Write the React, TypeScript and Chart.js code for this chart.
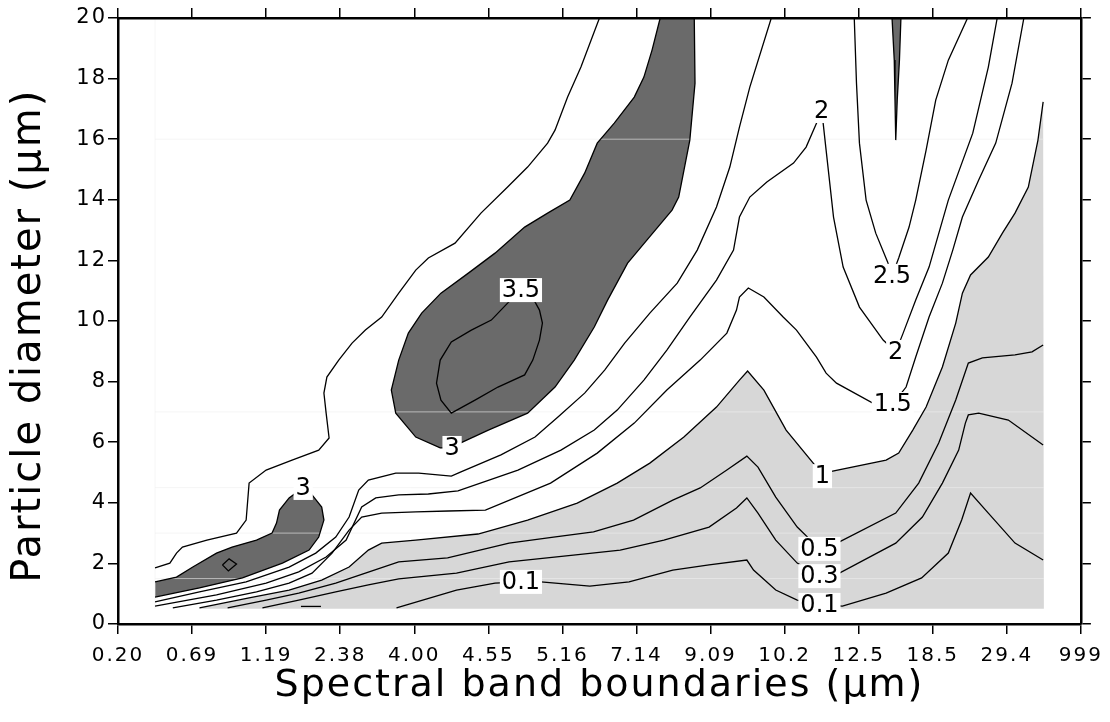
import React, { useEffect, useRef } from "react";
import { Chart, registerables } from "chart.js";

Chart.register(...registerables);

type P = [number, number];

// x axis: band boundary labels at integer positions 0..13; data sit at band centres
const bandLabels = ["0.20", "0.69", "1.19", "2.38", "4.00", "4.55", "5.16", "7.14", "9.09", "10.2", "12.5", "18.5", "29.4", "999"];
const yMin = 0;
const yMax = 20;
const yStep = 2;

// data domain edges (band centre 0.5 .. 12.5, diameter 0.5 .. 20)
const domainLeft = 0.5;
const domainRight = 12.5;
const domainBottom = 0.5;
const domainTop = 20;
// faint cell-row boundaries visible in the picture
const cellRows = [1.5, 3, 4.5, 7, 16];

// contour level 3 : large region (> 3)
const c3Big: P[] = [[7.78, 20], [7.79, 17.85], [7.72, 15.97], [7.57, 14.09], [7.48, 13.66], [7.14, 12.67], [6.88, 11.91], [6.61, 10.69], [6.43, 9.8], [6.16, 8.71], [5.9, 7.82], [5.53, 6.96], [5.0, 6.4], [4.62, 5.97], [4.51, 5.81], [4.35, 5.81], [4.02, 6.17], [3.75, 6.96], [3.69, 7.72], [3.79, 8.71], [3.92, 9.6], [4.1, 10.26], [4.36, 10.92], [4.73, 11.58], [5.09, 12.24], [5.49, 13.1], [5.8, 13.56], [6.1, 13.99], [6.3, 14.88], [6.47, 15.87], [6.7, 16.53], [6.97, 17.39], [7.1, 18.05], [7.21, 18.94], [7.32, 20]];
// contour level 3 : small region lower left
const c3Small: P[] = [[0.5, 1.39], [0.79, 1.55], [1.01, 1.88], [1.33, 2.34], [1.54, 2.54], [1.87, 2.77], [2.08, 3.0], [2.14, 3.33], [2.18, 3.76], [2.31, 4.16], [2.4, 4.32], [2.5, 4.49], [2.62, 4.26], [2.75, 3.86], [2.78, 3.43], [2.71, 2.87], [2.58, 2.44], [2.22, 2.01], [1.68, 1.52], [1.1, 1.19], [0.5, 0.89]];
// contour level 3 : thin sliver at top right
const c3Sliver: P[] = [[10.45, 20], [10.48, 18.61], [10.49, 17.29], [10.5, 15.97], [10.52, 17.29], [10.55, 18.61], [10.57, 20]];
// small closed contour inside small region
const cDiamond: P[] = [[1.41, 1.95], [1.5, 2.15], [1.6, 1.98], [1.49, 1.75], [1.41, 1.95]];
// contour level 3.5
const c35: P[] = [[5.44, 11.02], [5.26, 10.59], [5.04, 10.03], [4.77, 9.7], [4.5, 9.31], [4.35, 8.71], [4.3, 7.95], [4.36, 7.39], [4.5, 6.96], [4.82, 7.39], [5.13, 7.82], [5.49, 8.22], [5.6, 8.71], [5.69, 9.37], [5.73, 9.93], [5.69, 10.36], [5.63, 10.63], [5.44, 11.02]];
// contour level 2.5
const c25Upper: P[] = [[6.5, 20], [6.25, 18.38], [6.07, 17.39], [5.9, 16.3], [5.8, 15.87], [5.53, 15.08], [5.26, 14.42], [4.9, 13.56], [4.55, 12.57], [4.19, 12.08], [4.02, 11.68], [3.79, 10.92], [3.56, 10.13], [3.34, 9.7], [3.16, 9.27], [2.98, 8.71], [2.82, 8.15], [2.78, 7.62], [2.81, 6.96], [2.85, 6.14], [2.71, 5.74], [2.35, 5.41], [2.0, 5.08], [1.77, 4.65], [1.73, 3.43], [1.6, 3.0], [1.2, 2.77], [0.87, 2.54], [0.79, 2.34], [0.7, 2.01], [0.5, 1.85]];
const c25Lower: P[] = [[0.5, 0.73], [1.1, 1.06], [1.73, 1.39], [2.31, 1.88], [2.67, 2.34], [2.94, 2.87], [3.12, 3.53], [3.25, 4.42], [3.38, 4.75], [3.75, 4.98], [4.06, 4.98], [4.5, 4.88], [4.63, 5.02], [5.17, 5.58], [5.63, 6.17], [5.94, 6.83], [6.3, 7.62], [6.57, 8.38], [6.84, 9.27], [7.18, 10.26], [7.55, 11.25], [7.82, 12.34], [8.08, 13.76], [8.26, 15.08], [8.39, 16.4], [8.53, 17.72], [8.82, 20]];
const c25Right: P[] = [[9.94, 20], [9.97, 17.85], [10.01, 15.87], [10.1, 13.99], [10.23, 12.9], [10.39, 11.95], [10.45, 11.49], [10.54, 12.08], [10.68, 13.1], [10.77, 13.99], [10.91, 15.64], [11.04, 17.29], [11.21, 18.61], [11.47, 20]];
// contour level 2
const c2: P[] = [[0.5, 0.59], [1.33, 0.96], [2.0, 1.35], [2.44, 1.72], [2.81, 2.21], [3.08, 2.77], [3.29, 3.86], [3.48, 4.16], [3.79, 4.26], [4.19, 4.29], [4.59, 4.39], [5.4, 5.08], [5.98, 5.74], [6.43, 6.4], [6.74, 7.06], [7.1, 8.05], [7.41, 9.04], [7.72, 10.13], [8.08, 11.35], [8.31, 12.34], [8.39, 13.43], [8.53, 14.09], [8.76, 14.59], [9.12, 15.21], [9.29, 15.74], [9.43, 16.53], [9.5, 16.93], [9.52, 16.53], [9.56, 15.64], [9.66, 13.43], [9.79, 11.78], [10.01, 10.46], [10.33, 9.37], [10.5, 8.98], [10.6, 9.6], [10.77, 10.69], [10.95, 11.78], [11.21, 13.99], [11.54, 16.2], [11.75, 18.38], [11.87, 20]];
// contour level 1.5
const c15: P[] = [[0.74, 0.53], [1.33, 0.79], [1.87, 1.06], [2.31, 1.35], [2.62, 1.68], [2.89, 2.34], [3.12, 3.1], [3.29, 3.53], [3.56, 3.66], [4.02, 3.7], [4.46, 3.73], [4.96, 3.76], [5.84, 4.65], [6.47, 5.64], [6.97, 6.63], [7.41, 7.72], [7.86, 8.71], [8.22, 9.6], [8.35, 10.36], [8.39, 10.79], [8.51, 11.09], [8.72, 10.79], [8.98, 10.13], [9.16, 9.7], [9.43, 8.81], [9.56, 8.28], [9.7, 7.95], [10.19, 7.29], [10.46, 7.26], [10.64, 7.82], [10.77, 8.81], [10.95, 10.13], [11.13, 11.25], [11.27, 12.34], [11.4, 13.43], [11.62, 14.65], [11.85, 15.87], [12.07, 17.85], [12.23, 20]];
// contour level 1 (upper edge of the light region)
const c1: P[] = [[1.1, 0.53], [1.77, 0.86], [2.31, 1.12], [2.75, 1.45], [3.12, 1.88], [3.38, 2.44], [3.56, 2.67], [4.02, 2.77], [4.86, 2.97], [5.53, 3.43], [6.2, 3.99], [6.74, 4.65], [7.18, 5.31], [7.64, 6.17], [8.08, 7.16], [8.39, 8.05], [8.5, 8.35], [8.72, 7.72], [9.02, 6.4], [9.43, 5.18], [9.51, 4.88], [9.6, 5.02], [10.37, 5.41], [10.54, 5.64], [10.73, 6.4], [10.91, 7.16], [11.13, 8.48], [11.31, 9.93], [11.4, 10.92], [11.51, 11.52], [11.75, 12.11], [11.94, 12.9], [12.11, 13.56], [12.29, 14.42], [12.42, 15.97], [12.49, 17.23]];
// contour level 0.5
const c05: P[] = [[1.48, 0.53], [2.0, 0.79], [2.44, 1.02], [2.94, 1.35], [3.34, 1.68], [3.79, 2.05], [4.45, 2.18], [5.28, 2.67], [5.88, 2.87], [6.42, 3.04], [6.96, 3.43], [7.49, 4.09], [7.86, 4.49], [8.22, 5.08], [8.49, 5.54], [8.64, 5.18], [8.88, 4.19], [9.17, 3.2], [9.47, 2.48], [9.74, 2.71], [10.5, 3.66], [10.81, 4.65], [11.08, 5.97], [11.31, 7.39], [11.48, 8.61], [11.67, 8.78], [12.11, 8.88], [12.34, 8.98], [12.49, 9.21]];
// contour level 0.3
const c03: P[] = [[1.95, 0.53], [2.44, 0.79], [2.94, 1.06], [3.38, 1.29], [3.79, 1.49], [4.57, 1.68], [5.28, 2.05], [6.18, 2.28], [6.78, 2.44], [7.37, 2.77], [7.98, 3.2], [8.35, 3.83], [8.49, 4.16], [8.64, 3.66], [8.88, 2.77], [9.17, 2.01], [9.47, 1.58], [9.74, 1.68], [10.5, 2.67], [10.86, 3.53], [11.13, 4.65], [11.35, 5.74], [11.44, 6.63], [11.48, 6.9], [11.62, 6.96], [12.02, 6.73], [12.49, 5.91]];
// contour level 0.1
const c01: P[] = [[3.76, 0.53], [4.57, 1.12], [5.09, 1.35], [5.44, 1.39], [5.71, 1.39], [6.37, 1.25], [6.9, 1.39], [7.49, 1.78], [7.98, 1.95], [8.49, 2.11], [8.58, 1.78], [8.88, 1.12], [9.17, 0.79], [9.47, 0.63], [9.78, 0.59], [10.37, 1.02], [10.85, 1.52], [11.21, 2.34], [11.39, 3.43], [11.51, 4.32], [11.75, 3.66], [12.11, 2.67], [12.49, 2.11]];
const c01Short: P[] = [[2.47, 0.58], [2.74, 0.58]];

// contour labels
const labelText = ["3", "3", "3.5", "2", "2.5", "2", "1.5", "1", "0.5", "0.3", "0.1", "0.1"];
const labelX = [2.5, 4.51, 5.44, 9.5, 10.45, 10.5, 10.46, 9.51, 9.47, 9.47, 9.47, 5.44];
const labelY = [4.49, 5.81, 11.02, 16.93, 11.49, 8.98, 7.26, 4.88, 2.48, 1.58, 0.63, 1.39];

const DARK = "#6a6a6a";
const LIGHT = "#d7d7d7";
const FONT = "'DejaVu Sans', 'Liberation Sans', sans-serif";

const toXY = (pts: P[]) => pts.map(([x, y]) => ({ x, y }));

const lineDs = (pts: P[]) => ({
  data: toXY(pts),
  showLine: true,
  borderColor: "#000",
  borderWidth: 1.3,
  pointRadius: 0,
  fill: false,
  tension: 0,
  order: 1,
});

const fillDs = (pts: P[], color: string) => ({
  data: toXY(pts),
  showLine: true,
  borderColor: "rgba(0,0,0,0)",
  borderWidth: 0,
  backgroundColor: color,
  pointRadius: 0,
  fill: "shape",
  tension: 0,
  order: 3,
});

const cellDs = (pts: P[]) => ({
  data: toXY(pts),
  showLine: true,
  borderColor: "rgba(238,238,238,0.6)",
  borderWidth: 1,
  pointRadius: 0,
  fill: false,
  order: 2,
});

// wider letter spacing for axis text, like the reference lettering
const spacingPlugin = {
  id: "letterSpacing",
  beforeDraw(chart: any) {
    (chart.ctx as any).letterSpacing = "2px";
  },
  afterDraw(chart: any) {
    (chart.ctx as any).letterSpacing = "0px";
  },
};

const labelPlugin = {
  id: "contourLabels",
  afterDatasetsDraw(chart: any) {
    const { ctx, scales } = chart;
    ctx.save();
    (ctx as any).letterSpacing = "0px";
    ctx.font = `24px ${FONT}`;
    ctx.textAlign = "center";
    ctx.textBaseline = "middle";
    labelText.forEach((t, i) => {
      const px = scales.x.getPixelForValue(labelX[i]);
      const py = scales.y.getPixelForValue(labelY[i]);
      const w = ctx.measureText(t).width + 4;
      const h = 24;
      ctx.fillStyle = "#fff";
      ctx.fillRect(px - w / 2, py - h / 2, w, h);
      ctx.fillStyle = "#000";
      ctx.fillText(t, px, py + 1);
    });
    ctx.restore();
  },
};

export default function App() {
  const ref = useRef<HTMLCanvasElement | null>(null);

  useEffect(() => {
    if (!ref.current) return;
    const lightPoly: P[] = [...c1, [domainRight, c1[c1.length - 1][1]], [domainRight, domainBottom], [c1[0][0], domainBottom]];
    const cells: P[][] = cellRows.map((y) => [[domainLeft, y], [domainRight, y]] as P[]);
    cells.push([[domainLeft, domainBottom], [domainLeft, domainTop]]);

    const gridCommon = {
      drawOnChartArea: false,
      drawTicks: true,
      tickLength: 10,
      color: "#000",
      tickColor: "#000",
      lineWidth: 1.5,
    };
    const borderCommon = { display: true, color: "#000", width: 2.5, z: 1 };

    const chart = new Chart(ref.current, {
      type: "scatter",
      data: {
        datasets: [
          fillDs(lightPoly, LIGHT),
          fillDs(c3Big, DARK),
          fillDs(c3Small, DARK),
          fillDs(c3Sliver, DARK),
          ...cells.map(cellDs),
          lineDs(c3Big),
          lineDs(c3Small),
          lineDs(c3Sliver),
          lineDs(cDiamond),
          lineDs(c35),
          lineDs(c25Upper),
          lineDs(c25Lower),
          lineDs(c25Right),
          lineDs(c2),
          lineDs(c15),
          lineDs(c1),
          lineDs(c05),
          lineDs(c03),
          lineDs(c01),
          lineDs(c01Short),
        ] as any,
      },
      options: {
        animation: false,
        responsive: false,
        layout: { padding: 0 },
        plugins: { legend: { display: false }, tooltip: { enabled: false } },
        font: { family: FONT },
        scales: {
          x: {
            type: "linear",
            position: "bottom",
            min: 0,
            max: bandLabels.length - 1,
            afterFit: (s: any) => { s.height = 98; },
            ticks: {
              stepSize: 1,
              autoSkip: false,
              maxRotation: 0,
              padding: 10,
              color: "#000",
              font: { size: 20, family: FONT },
              callback: (v: any) => bandLabels[Math.round(Number(v))] ?? "",
            },
            grid: gridCommon,
            border: borderCommon,
            title: {
              display: true,
              text: "Spectral band boundaries (μm)",
              color: "#000",
              font: { size: 38, family: FONT },
              padding: { top: 0, bottom: 13 },
            },
          },
          x2: {
            type: "linear",
            position: "top",
            min: 0,
            max: bandLabels.length - 1,
            afterFit: (s: any) => { s.height = 18; },
            ticks: { display: false, stepSize: 1, autoSkip: false },
            grid: gridCommon,
            border: borderCommon,
          },
          y: {
            type: "linear",
            position: "left",
            min: yMin,
            max: yMax,
            afterFit: (s: any) => { s.width = 118; },
            ticks: {
              stepSize: yStep,
              padding: 1,
              color: "#000",
              font: { size: 21, family: FONT },
            },
            grid: gridCommon,
            border: borderCommon,
            title: {
              display: true,
              text: "Particle diameter (μm)  ",
              color: "#000",
              font: { size: 40, family: FONT },
              padding: { top: 6, bottom: 0 },
            },
          },
          y2: {
            type: "linear",
            position: "right",
            min: yMin,
            max: yMax,
            afterFit: (s: any) => { s.width = 24; },
            ticks: { display: false, stepSize: yStep },
            grid: gridCommon,
            border: borderCommon,
          },
        },
      } as any,
      plugins: [spacingPlugin, labelPlugin],
    });
    return () => chart.destroy();
  }, []);

  return (
    <div style={{ position: "absolute", left: 0, top: 0, width: 1110, height: 722, background: "#fff" }}>
      <canvas ref={ref} width={1110} height={722} style={{ display: "block" }} />
    </div>
  );
}
